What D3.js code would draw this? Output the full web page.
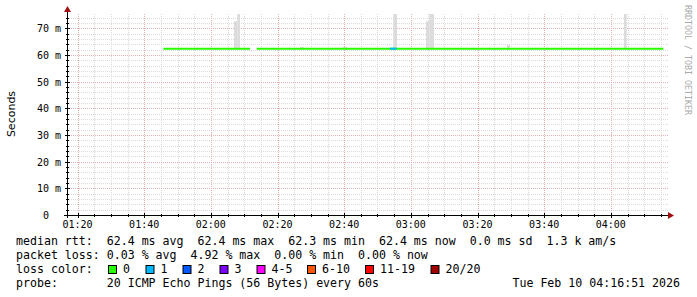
<!DOCTYPE html>
<html>
<head>
<meta charset="utf-8">
<script src="https://cdn.jsdelivr.net/npm/d3@7"></script>
<style>
  body { margin: 0; background: #fff; }
  svg { display: block; }
  text { font-family: "DejaVu Sans Mono", monospace; white-space: pre; }
</style>
</head>
<body>
<svg id="chart" width="697" height="297"></svg>
<script>
// time window shown (3 hours ending at the graph time)
const windowStart = "01:16:51"
const windowEnd = "04:16:51"

// median rtt, in ms, per contiguous stretch of data
const segStart = ["01:45:45", "02:13:45"]
const segEnd = ["02:11:45", "04:15:45"]
const segMedian = [62.4, 62.4]

// stretches where some pings were lost (count out of 20)
const lossStart = ["02:53:45"]
const lossEnd = ["02:55:45"]
const lossCount = [1]

// smoke: spread of rtt, in ms
const smokeStart = ["02:06:57", "02:07:56", "02:26:45", "02:39:39", "02:54:44", "03:04:33", "03:05:32", "03:28:51", "04:03:57"]
const smokeEnd   = ["02:07:56", "02:08:45", "02:27:57", "02:40:51", "02:55:51", "03:05:32", "03:06:57", "03:29:45", "04:04:46"]
const smokeTop   = [72.7, 80, 63.0, 63.0, 80, 72.7, 80, 63.8, 80]
const smokeLow   = [62.0, 62.0, 62.0, 62.0, 62.0, 62.0, 62.0, 62.0, 62.0]

const yTicks = [0, 10, 20, 30, 40, 50, 60, 70]
const xTickLabels = ["01:20", "01:40", "02:00", "02:20", "02:40", "03:00", "03:20", "03:40", "04:00"]

const lossLabels = ["0", "1", "2", "3", "4-5", "6-10", "11-19", "20/20"]
const lossColors = ["#26ff00", "#00b8ff", "#0059ff", "#7e00ff", "#ff00ff", "#ff5500", "#ff0000", "#a10000"]

const legendLines = [
  "median rtt:  62.4 ms avg  62.4 ms max  62.3 ms min  62.4 ms now  0.0 ms sd  1.3 k am/s",
  "packet loss: 0.03 % avg  4.92 % max  0.00 % min  0.00 % now",
  "loss color:",
  "probe:       20 ICMP Echo Pings (56 Bytes) every 60s"
]
const stamp = "Tue Feb 10 04:16:51 2026"

// ---- layout
const pL = 67, pR = 667, pT = 14, pB = 215
const parse = s => d3.timeParse("%Y-%m-%d %H:%M:%S")("2026-02-10 " + (s.length === 5 ? s + ":00" : s))

const svg = d3.select("#chart")
svg.append("rect").attr("width", 697).attr("height", 297).attr("fill", "#fff")

const x = d3.scaleTime().domain([parse(windowStart), parse(windowEnd)]).range([pL, pR])
const y = d3.scaleLinear().domain([0, 75.4]).range([pB, pT])

const minorX = x.ticks(d3.timeMinute.every(5))
const majorX = xTickLabels.map(parse)
const minorY = d3.range(0, 76, 2)
const px = v => Math.round(v) + 0.5

const grid = svg.append("g")
grid.selectAll(".vmin").data(minorX).enter().append("line")
  .attr("x1", d => px(x(d))).attr("x2", d => px(x(d)))
  .attr("y1", pT).attr("y2", pB)
  .attr("stroke", "#dadada").attr("stroke-dasharray", "1,1")
grid.selectAll(".hmin").data(minorY.filter(v => v > 0)).enter().append("line")
  .attr("x1", pL).attr("x2", pR + 1)
  .attr("y1", d => px(y(d))).attr("y2", d => px(y(d)))
  .attr("stroke", "#dadada").attr("stroke-dasharray", "1,1")
grid.selectAll(".vmaj").data(majorX).enter().append("line")
  .attr("x1", d => px(x(d))).attr("x2", d => px(x(d)))
  .attr("y1", pT).attr("y2", pB)
  .attr("stroke", "#e6b0b0").attr("stroke-dasharray", "1,1")
grid.selectAll(".hmaj").data(yTicks.filter(v => v > 0)).enter().append("line")
  .attr("x1", pL).attr("x2", pR + 1)
  .attr("y1", d => px(y(d))).attr("y2", d => px(y(d)))
  .attr("stroke", "#e6b0b0").attr("stroke-dasharray", "1,1")

// smoke
svg.append("clipPath").attr("id", "plot").append("rect")
  .attr("x", pL).attr("y", pT).attr("width", pR - pL).attr("height", pB - pT)
svg.append("g").attr("clip-path", "url(#plot)")
  .selectAll("rect").data(smokeStart).enter().append("rect")
  .attr("x", d => x(parse(d)))
  .attr("width", (d, i) => x(parse(smokeEnd[i])) - x(parse(d)))
  .attr("y", (d, i) => y(smokeTop[i]))
  .attr("height", (d, i) => y(smokeLow[i]) - y(smokeTop[i]))
  .attr("fill", "#dcdcdc")

// median line, green for no loss, then loss stretches over it
const med = svg.append("g")
med.selectAll(".seg").data(segStart).enter().append("line")
  .attr("x1", d => x(parse(d))).attr("x2", (d, i) => x(parse(segEnd[i])))
  .attr("y1", (d, i) => y(segMedian[i])).attr("y2", (d, i) => y(segMedian[i]))
  .attr("stroke", lossColors[0]).attr("stroke-width", 2)
med.selectAll(".loss").data(lossStart).enter().append("line")
  .attr("x1", d => x(parse(d))).attr("x2", (d, i) => x(parse(lossEnd[i])))
  .attr("y1", y(62.4)).attr("y2", y(62.4))
  .attr("stroke", (d, i) => lossColors[lossCount[i]]).attr("stroke-width", 2)

// axes
const ax = svg.append("g")
ax.append("line").attr("x1", pL - 3).attr("x2", pR + 3).attr("y1", pB + 0.5).attr("y2", pB + 0.5).attr("stroke", "#000")
ax.append("line").attr("x1", pL + 0.5).attr("x2", pL + 0.5).attr("y1", pB + 3).attr("y2", pT - 3).attr("stroke", "#000")
ax.append("path").attr("d", `M${pR + 1},${pB - 3}L${pR + 7},${pB + 0.5}L${pR + 1},${pB + 4}Z`).attr("fill", "#a01010")
ax.append("path").attr("d", `M${pL - 3},${pT - 2}L${pL + 0.5},${pT - 8}L${pL + 4},${pT - 2}Z`).attr("fill", "#a01010")

ax.selectAll(".xt").data(minorX).enter().append("line")
  .attr("x1", d => px(x(d))).attr("x2", d => px(x(d)))
  .attr("y1", pB - 1).attr("y2", pB + 2).attr("stroke", "#000")
ax.selectAll(".xT").data(majorX).enter().append("line")
  .attr("x1", d => px(x(d))).attr("x2", d => px(x(d)))
  .attr("y1", pB - 2).attr("y2", pB + 3).attr("stroke", "#000")
ax.selectAll(".yt").data(minorY).enter().append("line")
  .attr("x1", pL - 1).attr("x2", pL + 2)
  .attr("y1", d => px(y(d))).attr("y2", d => px(y(d))).attr("stroke", "#000")
ax.selectAll(".yT").data(yTicks).enter().append("line")
  .attr("x1", pL - 2).attr("x2", pL + 3)
  .attr("y1", d => px(y(d))).attr("y2", d => px(y(d))).attr("stroke", "#000")

ax.selectAll(".xl").data(xTickLabels).enter().append("text")
  .attr("x", d => x(parse(d))).attr("y", 228)
  .attr("text-anchor", "middle").attr("font-size", "10px").attr("fill", "#000")
  .text(d => d)
ax.selectAll(".yl").data(yTicks).enter().append("text")
  .attr("x", 61).attr("y", d => y(d) + 4)
  .attr("text-anchor", "end").attr("font-size", "10px").attr("fill", "#000")
  .text(d => d === 0 ? "0  " : d + " m")

svg.append("text")
  .attr("transform", "translate(15,114) rotate(-90)")
  .attr("text-anchor", "middle").attr("font-size", "11px")
  .style("font-family", "'DejaVu Sans', sans-serif")
  .text("Seconds")

svg.append("text")
  .attr("transform", "translate(685,60) rotate(90)")
  .attr("text-anchor", "middle").attr("font-size", "8.3px").attr("fill", "#aaa")
  .text("RRDTOOL / TOBI OETIKER")

// legend
const leg = svg.append("g").attr("font-size", "11.6px").attr("fill", "#000")
leg.selectAll("text").data(legendLines).enter().append("text")
  .attr("x", 16).attr("y", (d, i) => 245 + i * 14)
  .text(d => d)
leg.append("text").attr("x", 680).attr("y", 287).attr("text-anchor", "end").text(stamp)

const boxX = [108, 145.5, 182.5, 219.5, 256.5, 307, 365, 430.5]
const lg = svg.append("g")
lg.selectAll("rect").data(lossLabels).enter().append("rect")
  .attr("x", (d, i) => boxX[i] + 0.5).attr("y", 265.5).attr("width", 8).attr("height", 8)
  .attr("fill", (d, i) => lossColors[i]).attr("stroke", "#000")
lg.selectAll("text").data(lossLabels).enter().append("text")
  .attr("x", (d, i) => boxX[i] + 15).attr("y", 273).attr("font-size", "11.6px")
  .text(d => d)
</script>
</body>
</html>
